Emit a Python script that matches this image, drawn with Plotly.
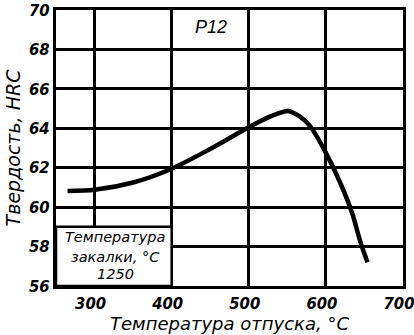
import plotly.graph_objects as go

# Tempering curve for Р12 high-speed steel
temper_c = [265, 300, 350, 400, 450, 500, 528, 551, 566, 580, 600, 619, 634, 645, 654]
hardness_hrc = [60.82, 60.88, 61.25, 61.95, 62.95, 64.05, 64.6, 64.88, 64.6, 64.08, 62.75, 61.2, 59.7, 58.2, 57.2]

x_ticks = [300, 400, 500, 600, 700]
y_ticks = [56, 58, 60, 62, 64, 66, 68, 70]

steel_grade = "Р12"
quench_lines = ["Температура", "закалки, °С", "1250"]

TICK_FONT = "Liberation Sans Narrow, DejaVu Sans Condensed, Liberation Sans"
TEXT_FONT = "DejaVu Sans"

fig = go.Figure()
fig.add_trace(go.Scatter(
    x=temper_c, y=hardness_hrc, mode="lines",
    line=dict(color="black", width=4.5, shape="spline", smoothing=0.8),
    hoverinfo="skip", showlegend=False,
))

# quench-temperature note box in the lower-left corner
fig.add_shape(type="rect", xref="x", yref="y", x0=250, x1=400, y0=56, y1=59,
              fillcolor="white", line=dict(color="black", width=2.5), layer="above")
for t, yv in zip(quench_lines, [58.5, 57.47, 56.6]):
    fig.add_annotation(x=327, y=yv, text=t, showarrow=False, xref="x", yref="y",
                       font=dict(family=TEXT_FONT, size=14.5, color="black", style="italic"))

fig.add_annotation(x=451, y=69.15, text=steel_grade, showarrow=False, xref="x", yref="y",
                   font=dict(family="Liberation Sans", size=18, color="black", style="italic"))

axis_common = dict(
    showgrid=True, gridcolor="black", gridwidth=2.5,
    showline=True, linecolor="black", linewidth=3, mirror=True,
    zeroline=False, ticks="", automargin=False, ticklabeloverflow="allow",
    tickfont=dict(family=TICK_FONT, size=16.5, color="black", style="italic", weight="bold"),
)

fig.update_xaxes(range=[250, 700], tickvals=x_ticks, ticktext=[str(v) for v in x_ticks],
                 ticklabelshift=-4,
                 title=dict(text="Температура отпуска, °С", standoff=0,
                            font=dict(family=TEXT_FONT, size=18, color="black", style="italic")),
                 **axis_common)
fig.update_yaxes(range=[56, 70], tickvals=y_ticks, ticktext=[str(v) for v in y_ticks],
                 title=dict(text="Твердость, HRC", standoff=4,
                            font=dict(family=TEXT_FONT, size=19, color="black", style="italic")),
                 **axis_common)

fig.update_layout(
    width=414, height=335,
    margin=dict(l=56, r=11, t=10, b=49),
    paper_bgcolor="white", plot_bgcolor="white",
)

fig.write_html("out.html")
